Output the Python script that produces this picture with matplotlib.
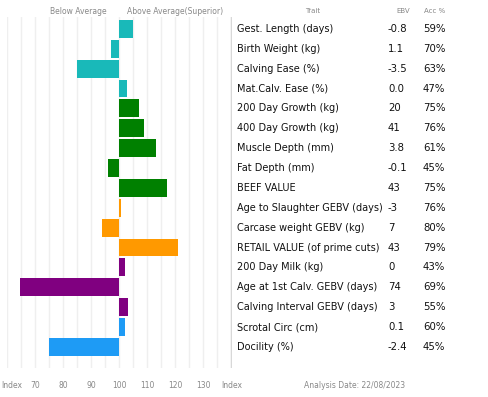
import matplotlib
matplotlib.use("Agg")
import matplotlib.pyplot as plt
import matplotlib.transforms as mtransforms

traits = ["Gest. Length (days)", "Birth Weight (kg)", "Calving Ease (%)", "Mat.Calv. Ease (%)",
          "200 Day Growth (kg)", "400 Day Growth (kg)", "Muscle Depth (mm)", "Fat Depth (mm)",
          "BEEF VALUE", "Age to Slaughter GEBV (days)", "Carcase weight GEBV (kg)",
          "RETAIL VALUE (of prime cuts)", "200 Day Milk (kg)", "Age at 1st Calv. GEBV (days)",
          "Calving Interval GEBV (days)", "Scrotal Circ (cm)", "Docility (%)"]
ebv = ["-0.8", "1.1", "-3.5", "0.0", "20", "41", "3.8", "-0.1", "43", "-3", "7", "43",
       "0", "74", "3", "0.1", "-2.4"]
acc = ["59%", "70%", "63%", "47%", "75%", "76%", "61%", "45%", "75%", "76%", "80%", "79%",
       "43%", "69%", "55%", "60%", "45%"]
index_vals = [105, 97, 85, 102.7, 107, 109, 113, 96, 117, 100.5, 94, 121, 102, 64.7, 103, 102, 75]
groups = ["teal"] * 4 + ["green"] * 5 + ["orange"] * 3 + ["purple"] * 3 + ["blue"] * 2
tick_vals = [60, 70, 80, 90, 100, 110, 120, 130, 140]
tick_labels = ["Index", "70", "80", "90", "100", "110", "120", "130", "Index"]

palette = {"teal": "#19B9B9", "green": "#008000", "orange": "#FF9900",
           "purple": "#800080", "blue": "#1E9BF5"}

W, H = 488, 397
fig = plt.figure(figsize=(W / 100, H / 100), dpi=100)
ax = fig.add_axes([7 / W, 1 - 368 / H, (232 - 7) / W, (368 - 17) / H])

ypos = list(range(len(traits)))
widths = [v - 100 for v in index_vals]
ax.barh(ypos, widths, left=100, height=0.9,
        color=[palette[g] for g in groups], edgecolor="none", zorder=3)

for g in range(60, 141, 5):
    ax.axvline(g, color="#efefef", lw=1.0, zorder=1)
ax.axvline(140, color="#d8d8d8", lw=1.0, zorder=2)

ax.set_xlim(60, 140.2)
ax.set_ylim(17.06, -0.6)
ax.set_yticks([])
ax.set_xticks(tick_vals)
ax.set_xticklabels(tick_labels, fontsize=5.5, color="#888888")
ax.tick_params(axis="x", length=0, pad=9)
first = ax.get_xticklabels()[0]
first.set_ha("left")
first.set_transform(first.get_transform() + mtransforms.ScaledTranslation(-6 / 100, 0, fig.dpi_scale_trans))
for s in ax.spines.values():
    s.set_visible(False)

fig.text(78 / W, 1 - 12 / H, "Below Average", fontsize=5.5, color="#888888", ha="center", va="center")
fig.text(175 / W, 1 - 12 / H, "Above Average(Superior)", fontsize=5.5, color="#888888", ha="center", va="center")
fig.text(313 / W, 1 - 11 / H, "Trait", fontsize=5, color="#888888", ha="center", va="center")
fig.text(403 / W, 1 - 11 / H, "EBV", fontsize=5, color="#888888", ha="center", va="center")
fig.text(435 / W, 1 - 11 / H, "Acc %", fontsize=5, color="#888888", ha="center", va="center")
fig.text(355 / W, 1 - 386 / H, "Analysis Date: 22/08/2023", fontsize=5.5, color="#888888", ha="center", va="center")

tr = mtransforms.blended_transform_factory(fig.transFigure, ax.transData)
for i, (t, e, a) in enumerate(zip(traits, ebv, acc)):
    fig.text(237 / W, i, t, transform=tr, fontsize=7.0, color="#111111", ha="left", va="center")
    fig.text(388 / W, i, e, transform=tr, fontsize=7.3, color="#111111", ha="left", va="center")
    fig.text(423 / W, i, a, transform=tr, fontsize=7.3, color="#111111", ha="left", va="center")

fig.savefig("out.png", dpi=100, facecolor="white")
